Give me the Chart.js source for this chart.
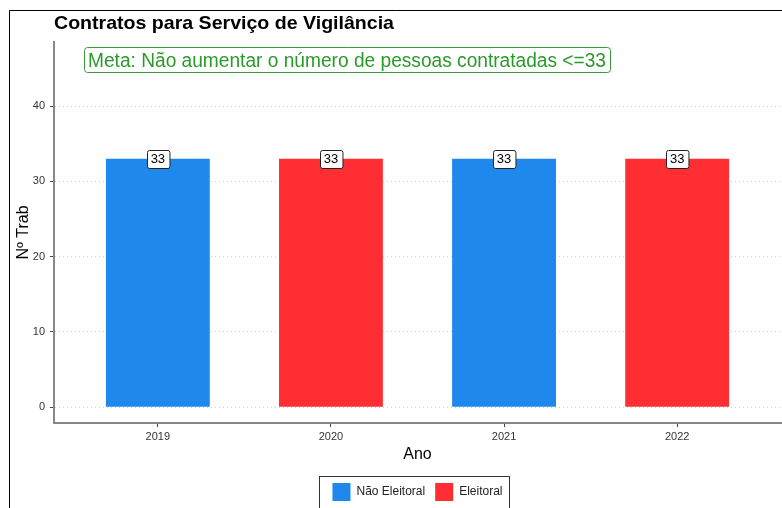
<!DOCTYPE html>
<html>
<head>
<meta charset="utf-8">
<script src="https://cdn.jsdelivr.net/npm/chart.js@4.4.0/dist/chart.umd.min.js"></script>
<style>
  html, body { margin: 0; padding: 0; background: #fff; }
  #wrap { position: relative; width: 782px; height: 508px; }
</style>
</head>
<body>
<div id="wrap"><canvas id="myChart" width="782" height="508"></canvas></div>
<script>
// dados
const anos = [2019, 2020, 2021, 2022];
const naoEleitoralAnos = [2019, 2021];
const naoEleitoralValores = [33, 33];
const eleitoralAnos = [2020, 2022];
const eleitoralValores = [33, 33];
const yTicks = [0, 10, 20, 30, 40];
const titulo = "Contratos para Serviço de Vigilância";
const meta = "Meta: Não aumentar o número de pessoas contratadas <=33";

const FONT = "'Liberation Sans', Arial, sans-serif";

function pontos(xs, ys) {
	let out = [];
	for (let i = 0; i < xs.length; i++) {
		out.push({ x: xs[i], y: ys[i] });
	}
	return out;
}

// moldura, titulo e caixa da meta
const decoracao = {
	id: "decoracao",
	beforeDraw(chart) {
		const ctx = chart.ctx;
		ctx.save();
		ctx.fillStyle = "#fff";
		ctx.fillRect(0, 0, chart.width, chart.height);
		ctx.strokeStyle = "#000";
		ctx.lineWidth = 1;
		ctx.beginPath();
		ctx.moveTo(9.5, chart.height);
		ctx.lineTo(9.5, 10.5);
		ctx.lineTo(chart.width, 10.5);
		ctx.stroke();
		ctx.restore();
	},
	afterDraw(chart) {
		const ctx = chart.ctx;
		const left = chart.chartArea.left;
		ctx.save();
		// titulo
		ctx.font = "bold 19px " + FONT;
		ctx.fillStyle = "#000";
		ctx.textBaseline = "middle";
		ctx.textAlign = "left";
		let w = ctx.measureText(titulo).width;
		ctx.translate(left, 24);
		ctx.scale(340 / w, 1);
		ctx.fillText(titulo, 0, 0);
		ctx.restore();

		// caixa da meta
		ctx.save();
		ctx.font = "20px " + FONT;
		w = ctx.measureText(meta).width;
		const bx = 84.5, by = 47.5, bw = 526, bh = 25;
		ctx.strokeStyle = "#3a9a3a";
		ctx.lineWidth = 1;
		ctx.beginPath();
		ctx.roundRect(bx, by, bw, bh, 3);
		ctx.stroke();
		ctx.fillStyle = "#2b9a2b";
		ctx.textBaseline = "middle";
		ctx.translate(88, 61);
		ctx.scale(518 / w, 1);
		ctx.fillText(meta, 0, 0);
		ctx.restore();

		// moldura da legenda
		const lg = chart.legend;
		if (lg && lg.legendHitBoxes && lg.legendHitBoxes.length) {
			const hb = lg.legendHitBoxes;
			const l = hb[0].left - 13;
			const r = hb[hb.length - 1].left + hb[hb.length - 1].width + 7;
			const t = hb[0].top - 7;
			ctx.save();
			ctx.strokeStyle = "#333";
			ctx.lineWidth = 1;
			ctx.strokeRect(Math.round(l) + 0.5, Math.round(t) + 0.5, Math.round(r - l), chart.height);
			ctx.restore();
		}
	}
};

// rotulos "33" em caixinhas
const rotulos = {
	id: "rotulos",
	afterDatasetsDraw(chart) {
		const ctx = chart.ctx;
		ctx.save();
		ctx.font = "13px " + FONT;
		ctx.textAlign = "center";
		ctx.textBaseline = "middle";
		chart.data.datasets.forEach((ds, i) => {
			const meta = chart.getDatasetMeta(i);
			meta.data.forEach((bar, j) => {
				const txt = String(ds.data[j].y);
				const tw = ctx.measureText(txt).width;
				const bw = tw + 8, bh = 18;
				const x = Math.round(bar.x - bw / 2) + 0.5;
				const y = Math.round(bar.y - bh / 2) + 0.5;
				ctx.fillStyle = "#fff";
				ctx.strokeStyle = "#222";
				ctx.lineWidth = 1;
				ctx.beginPath();
				ctx.roundRect(x, y, bw, bh, 2);
				ctx.fill();
				ctx.stroke();
				ctx.fillStyle = "#000";
				ctx.fillText(txt, bar.x, bar.y + 1);
			});
		});
		ctx.restore();
	}
};

const data = {
	datasets: [{
		label: "Não Eleitoral",
		data: pontos(naoEleitoralAnos, naoEleitoralValores),
		backgroundColor: "#1e88ec",
		borderWidth: 0
	}, {
		label: "Eleitoral",
		data: pontos(eleitoralAnos, eleitoralValores),
		backgroundColor: "#ff2e32",
		borderWidth: 0
	}]
};

const config = {
	type: "bar",
	data: data,
	options: {
		responsive: false,
		animation: false,
		devicePixelRatio: 1,
		grouped: false,
		barPercentage: 0.6,
		categoryPercentage: 1,
		layout: { padding: { top: 42, left: 0, right: 1, bottom: -3 } },
		plugins: {
			title: { display: false },
			tooltip: { enabled: false },
			legend: {
				position: "bottom",
				fullSize: false,
				labels: {
					boxWidth: 18,
					boxHeight: 18,
					padding: 10,
					color: "#222",
					font: { size: 12, family: FONT }
				}
			}
		},
		scales: {
			x: {
				type: "linear",
				offset: false,
				min: anos[0] - 0.6,
				max: anos[anos.length - 1] + 0.6,
				afterBuildTicks: (scale) => { scale.ticks = anos.map(v => ({ value: v })); },
				afterFit: (scale) => { scale.height = 50; },
				ticks: {
					callback: v => String(v),
					color: "#333",
					font: { size: 11, family: FONT },
					padding: 3
				},
				grid: {
					offset: false,
					drawOnChartArea: false,
					drawTicks: true,
					tickLength: 4,
					tickColor: "#444",
					tickWidth: 1
				},
				border: { color: "#888", width: 2 },
				title: {
					display: true,
					text: "Ano",
					color: "#000",
					font: { size: 16, family: FONT },
					padding: { top: 0, bottom: 9 }
				}
			},
			y: {
				min: -2.1,
				max: 48.5,
				afterBuildTicks: (scale) => { scale.ticks = yTicks.map(v => ({ value: v })); },
				afterFit: (scale) => { scale.width = 54; },
				ticks: {
					color: "#333",
					font: { size: 11, family: FONT },
					padding: 5
				},
				grid: {
					color: "#cfcfcf",
					tickBorderDash: [],
					tickLength: 4,
					tickColor: "#444",
					tickWidth: 1,
					lineWidth: 1
				},
				border: { color: "#888", width: 2, dash: [1, 3] },
				title: {
					display: true,
					text: "Nº Trab",
					color: "#000",
					font: { size: 16, family: FONT },
					padding: { top: 14, bottom: 0 }
				}
			}
		}
	},
	plugins: [decoracao, rotulos]
};

let ctx = document.getElementById("myChart").getContext("2d");
new Chart(ctx, config);
</script>
</body>
</html>
